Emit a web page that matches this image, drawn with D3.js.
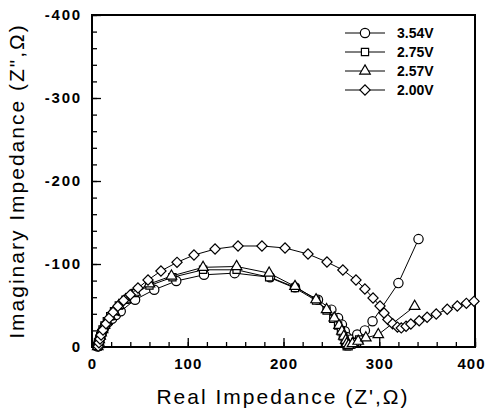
<!DOCTYPE html>
<html>
<head>
<meta charset="utf-8">
<script src="https://cdn.jsdelivr.net/npm/d3@7"></script>
<style>
  body { margin: 0; background: #fff; }
  text { font-family: Arial, "Liberation Sans", sans-serif; fill: #000; }
</style>
</head>
<body>
<div class="chart"></div>
<script>
// Nyquist plots at four cell voltages

var labels = ["3.54V", "2.75V", "2.57V", "2.00V"];
var symbols = ["circle", "square", "triangle", "diamond"];

var re354 = [6, 6.5, 7, 8, 9, 10, 12, 14, 17, 21, 25, 30, 45, 65, 88, 117, 149, 186, 212, 236, 250, 257, 261, 264, 266, 270, 277, 285, 293, 320, 341];
var im354 = [-0.5, -3, -6, -9, -13, -17, -21, -26, -30, -34, -38.5, -43, -57, -69, -79.5, -87, -89, -84, -72, -57, -45, -35, -27, -19, -12, -9, -15, -20, -31, -77, -130];

var re275 = [6, 6.5, 7, 7.7, 8.6, 9.7, 11, 13, 15.5, 19, 23, 28, 35, 45, 60, 84, 116, 151, 185, 212, 234, 245, 252, 257, 260, 262, 264, 265, 266, 268, 271, 275, 279];
var im275 = [-0.5, -3, -6, -9, -13, -17, -21, -26, -31, -37, -43, -50, -57, -65, -74, -84, -93, -93, -84, -71, -56, -44, -34, -26, -19, -13, -8, -4, -1, -1, -3, -6, -9];

var re257 = [6, 6.5, 7, 7.5, 8.5, 9.5, 11, 13, 15.5, 19, 23, 28, 35, 45, 60, 83, 116, 151, 185, 212, 234, 245, 253, 258, 261, 263, 265, 266, 268, 272, 278, 286, 299, 337];
var im257 = [-0.5, -3, -6, -9, -13, -17, -21, -26, -31, -37, -43, -50, -57, -66, -76, -85.5, -96, -97, -89, -73, -57, -45, -35, -26, -19, -13, -8, -4, -2, -4, -7, -11, -15, -49];

var re200 = [6.5, 7.3, 8.4, 9.5, 11.5, 14.6, 18, 22, 27, 33, 40, 48, 58.5, 72, 88.8, 106.5, 128.5, 152.5, 177.5, 201.6, 225.6, 245.4, 262, 275.7, 285, 293.5, 300.8, 305, 309, 314, 319, 323, 328, 333, 341.7, 350, 359.5, 371, 381.5, 391, 399];
var im200 = [-1, -5, -9.6, -14.5, -20.5, -28, -35, -42, -49, -56, -63, -71, -80.7, -91.6, -102, -110.8, -118, -121.7, -121.7, -119.3, -112, -102.4, -92.8, -80.7, -69.9, -59, -49.4, -41, -33, -28, -24, -23, -25, -27.7, -31.7, -35.8, -39.8, -45.4, -49.4, -52.6, -55];

var xTicks = [0, 100, 200, 300, 400];
var yTicks = [0, -100, -200, -300, -400];

var series = [
  {re: re354, im: im354},
  {re: re275, im: im275},
  {re: re257, im: im257},
  {re: re200, im: im200}
];

var width = 488, height = 412,
    margin = {top: 15, right: 13, bottom: 65, left: 92};

var svg = d3.select(".chart").append("svg")
    .attr("width", width)
    .attr("height", height);

var x = d3.scaleLinear().domain([0, 400]).range([margin.left, width - margin.right]),
    y = d3.scaleLinear().domain([0, -400]).range([height - margin.bottom, margin.top]);

var shape = {
  circle: d3.symbol().type(d3.symbolCircle).size(68),
  square: d3.symbol().type(d3.symbolSquare).size(52),
  triangle: d3.symbol().type(d3.symbolTriangle).size(48),
  diamond: d3.symbol().type(d3.symbolSquare).size(52)
};

function drawMarker(g, kind) {
  var p = g.append("path")
      .attr("d", shape[kind]())
      .attr("fill", "#fff")
      .attr("stroke", "#000")
      .attr("stroke-width", 1.2);
  if (kind == "diamond") p.attr("transform", "rotate(45)");
  return p;
}

// minor ticks (inward)
var minorX = d3.range(0, 401, 20), minorY = d3.range(0, -401, -20);

svg.append("g")
    .attr("transform", "translate(0," + y(0) + ")")
    .call(d3.axisBottom(x).tickValues(minorX).tickSize(-5).tickFormat(""))
    .call(function(g) { g.select(".domain").remove(); });

svg.append("g")
    .attr("transform", "translate(" + x(0) + ",0)")
    .call(d3.axisLeft(y).tickValues(minorY).tickSize(-5).tickFormat(""))
    .call(function(g) { g.select(".domain").remove(); });

// major ticks + labels
svg.append("g")
    .attr("class", "axis axis--x")
    .attr("transform", "translate(0," + y(0) + ")")
    .call(d3.axisBottom(x).tickValues(xTicks).tickSize(-9).tickPadding(11).tickFormat(d3.format("d")))
    .call(function(g) { g.select(".domain").remove(); })
    .selectAll("text")
    .style("font-size", "15px")
    .style("font-weight", "bold")
    .style("letter-spacing", "1px")
    .attr("dx", function(d) { return d == 400 ? "-4" : "0"; });

svg.append("g")
    .attr("class", "axis axis--y")
    .attr("transform", "translate(" + x(0) + ",0)")
    .call(d3.axisLeft(y).tickValues(yTicks).tickSize(-9).tickPadding(10).tickFormat(function(d) { return d == 0 ? "0" : d; }))
    .call(function(g) { g.select(".domain").remove(); })
    .selectAll("text")
    .style("font-size", "15px")
    .style("font-weight", "bold")
    .style("letter-spacing", "1.8px");

svg.selectAll(".tick line").attr("stroke", "#000").attr("stroke-width", 1.3);

// frame
svg.append("rect")
    .attr("x", x(0))
    .attr("y", y(-400))
    .attr("width", x(400) - x(0))
    .attr("height", y(0) - y(-400))
    .attr("fill", "none")
    .attr("stroke", "#000")
    .attr("stroke-width", 2);

// series
var line = d3.line().x(function(d) { return x(d[0]); }).y(function(d) { return y(d[1]); });

series.forEach(function(s, i) {
  var pts = s.re.map(function(v, j) { return [v, s.im[j]]; });
  svg.append("path")
      .datum(pts)
      .attr("d", line)
      .attr("fill", "none")
      .attr("stroke", "#000")
      .attr("stroke-width", 1);
  var g = svg.append("g");
  pts.forEach(function(p) {
    var m = g.append("g").attr("transform", "translate(" + x(p[0]) + "," + y(p[1]) + ")");
    drawMarker(m, symbols[i]);
  });
});

// legend
var legend = svg.append("g");
labels.forEach(function(lab, i) {
  var ly = 33 + i * 19;
  legend.append("line")
      .attr("x1", 345).attr("x2", 385)
      .attr("y1", ly).attr("y2", ly)
      .attr("stroke", "#000");
  var m = legend.append("g").attr("transform", "translate(365," + ly + ")");
  drawMarker(m, symbols[i]);
  legend.append("text")
      .attr("x", 397)
      .attr("y", ly)
      .attr("dy", "0.35em")
      .style("font-size", "14px")
      .style("font-weight", "bold")
      .text(lab);
});

// axis titles
svg.append("text")
    .attr("x", 283)
    .attr("y", 404)
    .style("text-anchor", "middle")
    .style("font-size", "21px")
    .style("letter-spacing", "2px")
    .text("Real Impedance (Z',\u03A9)");

svg.append("text")
    .attr("transform", "translate(24," + 181 + ") rotate(-90)")
    .style("text-anchor", "middle")
    .style("font-size", "21px")
    .style("letter-spacing", "2px")
    .text("Imaginary Impedance (Z\",\u03A9)");
</script>
</body>
</html>
